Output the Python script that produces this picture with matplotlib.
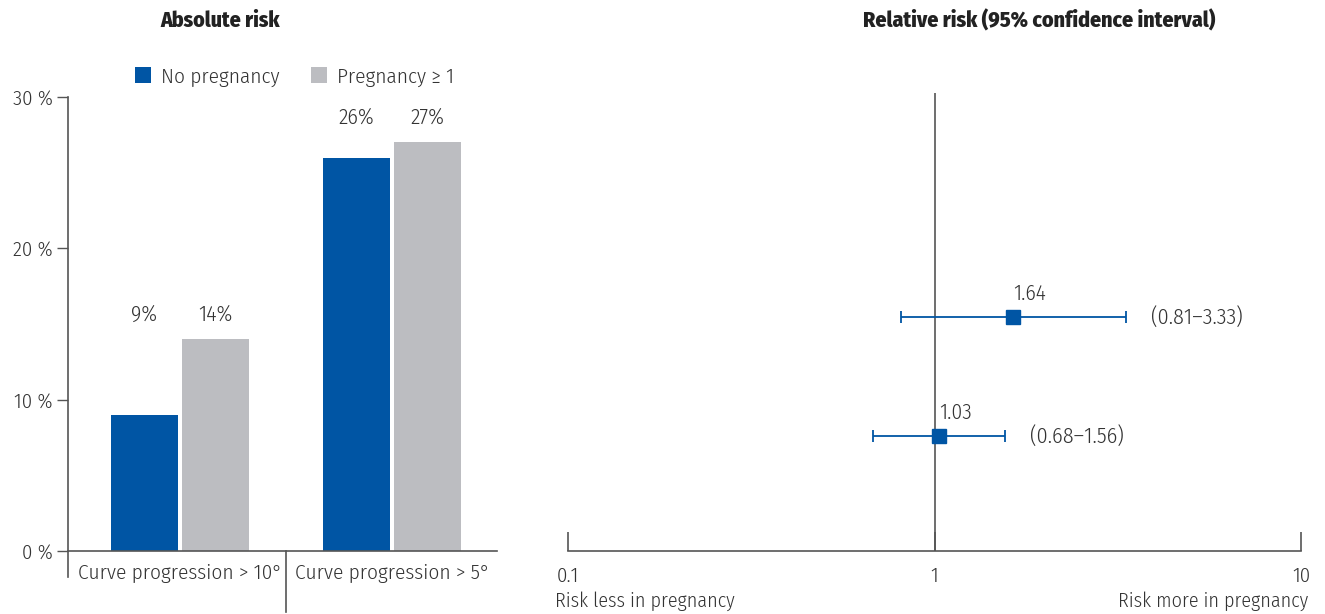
import matplotlib.pyplot as plt
from matplotlib.lines import Line2D

categories = ["Curve progression > 10°", "Curve progression > 5°"]
no_preg = [9, 26]
preg = [14, 27]
series_names = ["No pregnancy", "Pregnancy \u2265 1"]
y_ticks = [0, 10, 20, 30]

rr = [1.64, 1.03]
ci_low = [0.81, 0.68]
ci_high = [3.33, 1.56]
rr_rows = [2, 1]
x_ticks = [0.1, 1, 10]
x_ticklabels = ["0.1", "1", "10"]

BLUE = "#0055A4"
GREY = "#BCBDC1"
AXC = "#555555"
TXT = "#333333"
FONT = ["Fira Sans Condensed", "DejaVu Sans"]
FS = 14.5

plt.rcParams["font.family"] = FONT
plt.rcParams["font.weight"] = 300
plt.rcParams["text.color"] = TXT

fig = plt.figure(figsize=(13.25, 6.14), dpi=100)

# ---- left: absolute risk
ax1 = fig.add_axes([0.0513, 0.1026, 0.3238, 0.7394])
w = 0.316
off = 0.167
xs = list(range(len(categories)))
ax1.bar([x - off for x in xs], no_preg, width=w, color=BLUE, label=series_names[0])
ax1.bar([x + off for x in xs], preg, width=w, color=GREY, label=series_names[1])
for x, a, b in zip(xs, no_preg, preg):
    top = max(a, b) + 1.65
    ax1.text(x - off, top, f"{a}%", ha="center", va="center", fontsize=15.8)
    ax1.text(x + off, top, f"{b}%", ha="center", va="center", fontsize=15.8)

ax1.set_xlim(-0.528, 1.495)
ax1.set_ylim(0, 30)
ax1.set_yticks(y_ticks)
ax1.set_yticklabels([f"{t} %" for t in y_ticks])
ax1.set_xticks(xs)
ax1.set_xticklabels(categories)
ax1.tick_params(axis="x", length=0, pad=9, labelsize=15.3, labelcolor=TXT)
ax1.tick_params(axis="y", length=8, width=1, color=AXC, pad=3, labelsize=15, labelcolor=TXT)
for s in ["top", "right", "left"]:
    ax1.spines[s].set_visible(False)
ax1.spines["bottom"].set_color(AXC)
ax1.spines["bottom"].set_linewidth(1.2)
# left axis line running below zero, and the category divider
ax1.add_line(Line2D([-0.528, -0.528], [-1.7, 30], color=AXC, lw=1.2, clip_on=False))
ax1.add_line(Line2D([0.5, 0.5], [0, -4.0], color=AXC, lw=1.2, clip_on=False))

ax1.legend(loc="lower left", bbox_to_anchor=(0.121, 0.99), ncol=2, frameon=False,
           fontsize=15.3, handlelength=0.75, handleheight=0.75, handletextpad=0.5,
           columnspacing=1.45, borderpad=0.2)
fig.text(0.166, 0.966, "Absolute risk", ha="center", va="center",
         fontsize=15.6, fontweight=800, color="#222222")

# ---- right: relative risk
ax2 = fig.add_axes([0.4287, 0.1026, 0.5532, 0.7459])
xerr = [[r - l for r, l in zip(rr, ci_low)], [h - r for r, h in zip(rr, ci_high)]]
ax2.errorbar(rr, rr_rows, xerr=xerr, fmt="s", color=BLUE, ecolor=BLUE,
             markersize=10, elinewidth=1.3, capsize=4, capthick=1.3, zorder=3)
for r, y, h, lo in zip(rr, rr_rows, ci_high, ci_low):
    ax2.annotate(f"{r:.2f}", (r, y), xytext=(0, 9), textcoords="offset points",
                 ha="left", va="bottom", fontsize=15.5)
    ax2.annotate(f"({lo:.2f}\u2013{h:.2f})", (h, y), xytext=(18, 0),
                 textcoords="offset points", ha="left", va="center", fontsize=16)

ax2.set_xscale("log")
ax2.set_xlim(0.1, 10)
ax2.set_ylim(0.034, 3.882)
ax2.axvline(1, color=AXC, lw=1.2, zorder=1)
ax2.set_xticks(x_ticks)
ax2.set_xticklabels(x_ticklabels)
ax2.minorticks_off()
ax2.tick_params(axis="x", direction="in", length=14, width=1.2, color=AXC,
                pad=11, labelsize=15, labelcolor=TXT)
ax2.set_yticks([])
for s in ["top", "right", "left"]:
    ax2.spines[s].set_visible(False)
ax2.spines["bottom"].set_color(AXC)
ax2.spines["bottom"].set_linewidth(1.2)
ax2.text(-0.018, -0.11, "Risk less in pregnancy", transform=ax2.transAxes,
         ha="left", va="center", fontsize=FS)
ax2.text(1.01, -0.11, "Risk more in pregnancy", transform=ax2.transAxes,
         ha="right", va="center", fontsize=FS)
fig.text(0.7845, 0.966, "Relative risk (95% confidence interval)", ha="center",
         va="center", fontsize=15.7, fontweight=800, color="#222222")

fig.savefig("out.png", dpi=100)
